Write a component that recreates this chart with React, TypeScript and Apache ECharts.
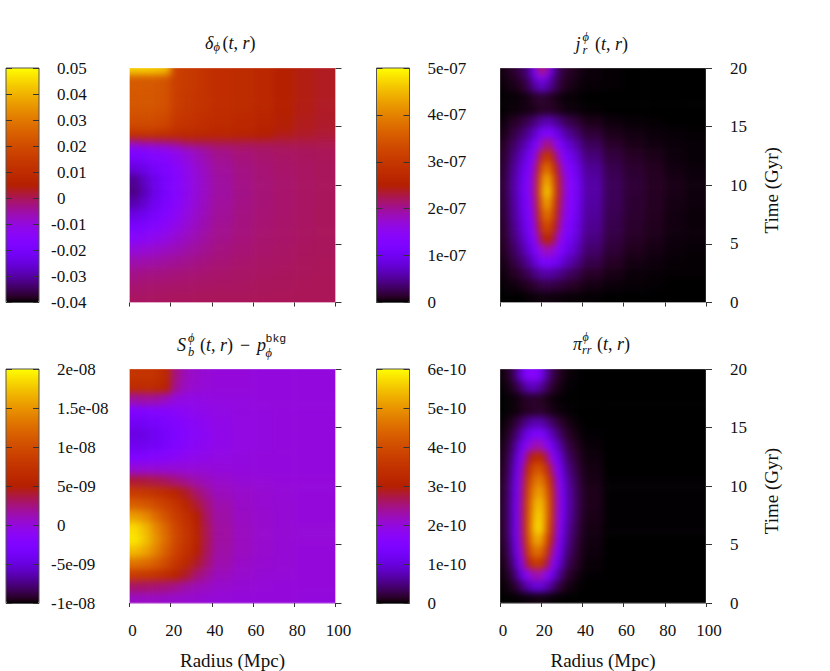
import React, { useEffect, useRef } from "react";
import * as echarts from "echarts";

// ---------- axis ticks ----------
const radiusTicks = [0, 20, 40, 60, 80, 100];
const timeTicks = [0, 5, 10, 15, 20];
const barLabelsDelta = ["-0.04", "-0.03", "-0.02", "-0.01", "0", "0.01", "0.02", "0.03", "0.04", "0.05"];
const barLabelsJ = ["0", "1e-07", "2e-07", "3e-07", "4e-07", "5e-07"];
const barLabelsS = ["-1e-08", "-5e-09", "0", "5e-09", "1e-08", "1.5e-08", "2e-08"];
const barLabelsPi = ["0", "1e-10", "2e-10", "3e-10", "4e-10", "5e-10", "6e-10"];

// ---------- δφ(t,r), in units of 1e-3; rows run from t=0 upward ----------
const deltaR = [0, 5, 10, 15, 20, 25, 30, 35, 40, 50, 60, 70, 80, 90, 100];
const deltaT = [0, 1, 2, 3, 4, 5, 6, 7, 8, 9, 10, 11, 12, 13, 13.5, 14, 14.5, 15, 16, 17, 18, 19, 19.5, 20];
const deltaValues = [
  [-0.6, -0.6, -0.5, -0.5, -0.4, -0.4, -0.3, -0.3, -0.2, -0.2, -0.1, -0.1, 0, 0],
  [-1.6, -1.5, -1.4, -1.3, -1.1, -1, -0.9, -0.8, -0.6, -0.5, -0.3, -0.2, -0.1, 0],
  [-3.2, -3, -2.8, -2.6, -2.3, -2, -1.8, -1.5, -1.2, -0.9, -0.6, -0.4, -0.2, -0.1],
  [-5.8, -5.5, -5.1, -4.6, -4, -3.5, -3, -2.5, -1.9, -1.3, -0.9, -0.6, -0.3, -0.1],
  [-9.5, -9, -8.2, -7.3, -6.3, -5.3, -4.4, -3.6, -2.6, -1.8, -1.2, -0.8, -0.4, -0.2],
  [-14.5, -13.5, -12, -10.5, -8.8, -7.2, -5.8, -4.6, -3.3, -2.2, -1.4, -1, -0.5, -0.2],
  [-19.5, -18, -16, -13.5, -11, -9, -7, -5.5, -3.8, -2.5, -1.6, -1.1, -0.6, -0.2],
  [-24, -22, -19.5, -16.5, -13.5, -10.5, -8, -6.2, -4.2, -2.7, -1.8, -1.2, -0.6, -0.2],
  [-29, -26, -22, -18.5, -15, -11.8, -9, -6.8, -4.6, -3, -1.9, -1.3, -0.7, -0.3],
  [-32, -28, -23.5, -19.5, -16, -12.5, -9.5, -7.2, -4.8, -3.1, -2, -1.3, -0.7, -0.3],
  [-31, -27, -23, -19.5, -16, -12.5, -9.5, -7.2, -4.8, -3, -1.9, -1.3, -0.7, -0.3],
  [-25, -23, -20, -18, -15, -12, -9, -6.8, -4.4, -2.8, -1.8, -1.1, -0.6, -0.2],
  [-19, -18, -16.5, -15, -12.5, -10, -7.5, -5.6, -3.6, -2.2, -1.4, -0.8, -0.4, -0.1],
  [-14, -13.5, -12, -10.5, -8.5, -6.5, -5, -3.5, -2, -1.1, -0.6, -0.2, 0, 0.2],
  [-4, -3, -2.4, -1.8, -1.2, 1, 1.2, 1.2, 1.2, 1.2, 1.2, 1, 1, 0.8],
  [11, 11, 10.5, 10, 9, 8.5, 8, 7.5, 7.5, 6.5, 5, 3.5, 2.5, 1.8],
  [16, 16, 15.5, 14.5, 11.5, 10, 9.5, 9, 8.5, 7.5, 6, 4.2, 3, 2.2],
  [20, 20, 19.5, 18.5, 14, 12.5, 11.5, 10.5, 9.5, 8.5, 7, 4.8, 3.4, 2.6],
  [22, 22, 21.5, 20.5, 15.5, 14, 12.5, 11.5, 10, 9, 7.5, 5.2, 3.8, 2.8],
  [23, 23, 22.5, 21, 16, 14.5, 13, 12, 10.5, 9.5, 8, 5.6, 4, 3],
  [23.5, 23.5, 23, 21.5, 16.5, 15, 13.5, 12, 10.5, 9.5, 8, 5.6, 4, 3],
  [24, 24, 24, 22.5, 16.5, 15, 13.5, 12, 10.5, 9.5, 8, 5.6, 4, 3],
  [44, 44, 43, 41, 17, 15, 13.5, 12, 10.5, 9.5, 8, 5.6, 4, 3],
];

// ---------- j_r^φ(t,r), in units of 1e-8 ----------
const jR = [0, 4, 8, 10, 12, 14, 16, 18, 20, 22, 24, 26, 28, 30, 32, 36, 40, 50, 60, 70, 80, 90, 100];
const jT = [0, 1, 2, 3, 4, 5, 6, 7, 8, 9, 10, 11, 12, 13, 14, 15, 16, 17, 18, 19, 19.5, 20];
const jValues = [
  [0, 0, 0, 0, 0.2, 0.3, 0.3, 0.4, 0.4, 0.4, 0.4, 0.4, 0.3, 0.3, 0.2, 0.2, 0.1, 0, 0, 0, 0, 0],
  [0.2, 0.4, 0.6, 0.8, 1, 1.3, 1.6, 1.9, 2.2, 2.3, 2.2, 2, 1.8, 1.6, 1.3, 1, 0.6, 0.3, 0.2, 0.1, 0, 0],
  [0.4, 1, 1.6, 2, 2.6, 3.3, 4.2, 5, 5.6, 5.8, 5.5, 5, 4.5, 3.9, 3.1, 2.3, 1.3, 0.7, 0.3, 0.2, 0.1, 0.1],
  [0.7, 1.9, 3, 3.8, 4.8, 6.2, 8, 10, 11.5, 12, 11.5, 10.4, 9, 7.8, 6, 4.4, 2.4, 1.2, 0.6, 0.4, 0.2, 0.1],
  [1, 2.8, 4.4, 5.5, 7, 9, 11.5, 15, 18, 19, 18, 15.5, 13, 11, 8.5, 6.2, 3.4, 1.7, 0.9, 0.6, 0.3, 0.2],
  [1.2, 3.6, 5.6, 7, 8.8, 11, 14.5, 20, 25, 27, 24.5, 20, 16, 13.5, 10.3, 7.5, 4.2, 2.1, 1.2, 0.8, 0.4, 0.3],
  [1.4, 4.2, 6.5, 8, 10, 12.5, 16.5, 24, 31, 34, 30, 24, 18.5, 15, 11.5, 8.4, 4.8, 2.4, 1.4, 0.9, 0.5, 0.3],
  [1.6, 4.7, 7.2, 8.8, 11, 13.8, 18.5, 27, 36, 39, 35, 27, 20.5, 16.5, 12.5, 9.2, 5.2, 2.6, 1.5, 1, 0.5, 0.3],
  [1.7, 5, 7.7, 9.4, 11.7, 14.8, 20, 30, 40, 44, 38, 29, 22, 17.5, 13.2, 9.7, 5.5, 2.8, 1.6, 1.1, 0.6, 0.4],
  [1.8, 5.2, 8, 9.8, 12, 15.4, 21, 32, 43, 48, 41, 31, 23, 18, 13.6, 10, 5.7, 2.8, 1.7, 1.1, 0.7, 0.4],
  [1.8, 5.2, 7.9, 9.6, 11.8, 15, 20.5, 31, 41, 45, 39, 30, 22.5, 17.8, 13.4, 9.8, 5.6, 2.8, 1.7, 1.1, 0.7, 0.4],
  [1.6, 4.8, 7.2, 8.8, 10.8, 13.8, 18.5, 27, 36, 39, 33.5, 26.5, 20, 16, 12, 8.8, 5, 2.5, 1.5, 1, 0.5, 0.3],
  [1.4, 4, 6, 7.4, 9.2, 11.6, 15.5, 22, 28, 31, 27, 21, 16.5, 13.4, 10, 7.2, 4, 2, 1.2, 0.8, 0.4, 0.2],
  [1.1, 3.1, 4.6, 5.6, 7, 8.8, 11.5, 15.5, 19.5, 22, 19.5, 15.5, 12.2, 10, 7.4, 5.2, 2.9, 1.4, 0.8, 0.5, 0.3, 0.2],
  [0.7, 2, 3, 3.7, 4.6, 5.8, 7.4, 9.5, 11.5, 13, 12, 9.8, 8, 6.4, 4.6, 3.2, 1.7, 0.8, 0.5, 0.3, 0.2, 0.1],
  [0.4, 1.1, 1.6, 2, 2.5, 3.2, 4, 5, 5.8, 6.4, 6, 5, 4, 3.2, 2.3, 1.6, 0.8, 0.4, 0.2, 0.1, 0, 0],
  [0.1, 0.3, 0.4, 0.5, 0.6, 0.7, 0.9, 1, 1.2, 1.3, 1.2, 1, 0.8, 0.6, 0.4, 0.3, 0.1, 0, 0, 0, 0, 0],
  [0.1, 0.2, 0.3, 0.4, 0.6, 0.9, 1.2, 1.5, 1.5, 1.3, 1, 0.7, 0.5, 0.3, 0.2, 0.1, 0, 0, 0, 0, 0, 0],
  [0.3, 0.7, 1, 1.5, 2.3, 3.8, 5.5, 7, 7.2, 6, 4.4, 2.9, 1.9, 1.2, 0.7, 0.4, 0.2, 0.1, 0, 0, 0, 0],
  [0.5, 1.1, 1.8, 2.8, 3, 6, 10, 14, 15, 11, 6, 3.5, 2.4, 1.6, 1, 0.6, 0.3, 0.1, 0, 0, 0, 0],
  [0.6, 1.4, 2.3, 3, 3.5, 7, 13, 20, 23, 17, 9, 4.5, 2.5, 1.8, 1.2, 0.7, 0.3, 0.1, 0, 0, 0, 0],
];

// ---------- S_b^φ(t,r) − p_φ^bkg, in units of 1e-9 ----------
const sR = [0, 5, 10, 15, 20, 25, 30, 35, 40, 50, 60, 70, 80, 100];
const sT = [0, 1, 2, 3, 4, 5, 6, 7, 8, 9, 10, 11, 12, 13, 14, 15, 16, 17, 18, 19, 20];
const sValues = [
  [0.8, 0.8, 0.8, 0.7, 0.6, 0.5, 0.4, 0.3, 0.2, 0.1, 0.1, 0.1, 0],
  [3, 3, 2.8, 2.6, 2.2, 1.6, 1.2, 0.9, 0.5, 0.3, 0.2, 0.1, 0.1],
  [8.5, 8.2, 7.6, 6.8, 5.6, 4.2, 2.8, 1.9, 1, 0.5, 0.3, 0.2, 0.1],
  [13, 12.5, 11.5, 9.8, 7.8, 6.2, 4.2, 2.8, 1.4, 0.7, 0.4, 0.3, 0.1],
  [17, 16, 14, 11.5, 9, 7.2, 5.2, 3.2, 1.6, 0.9, 0.5, 0.3, 0.1],
  [19, 17.5, 15, 12.4, 9.6, 7.8, 5.6, 3.4, 1.7, 0.9, 0.5, 0.3, 0.2],
  [18.5, 17, 14.5, 12, 9.4, 7.6, 5.4, 3.3, 1.7, 0.9, 0.5, 0.3, 0.2],
  [15.5, 14.5, 12.5, 10.5, 8.6, 7, 5, 3, 1.6, 0.8, 0.5, 0.3, 0.1],
  [11.5, 11, 10, 8.8, 7.5, 5.8, 4, 2.6, 1.4, 0.7, 0.4, 0.3, 0.1],
  [8.4, 8, 7.4, 6.6, 5.6, 4.2, 2.9, 1.9, 1, 0.6, 0.4, 0.2, 0.1],
  [4, 3.8, 3.6, 3.2, 2.6, 2, 1.4, 1, 0.6, 0.3, 0.2, 0.1, 0.1],
  [0.4, 0.3, 0.3, 0.3, 0.3, 0.2, 0.2, 0.2, 0.1, 0, 0, 0, 0],
  [-2.4, -2.2, -1.9, -1.6, -1.2, -0.8, -0.6, -0.4, -0.2, -0.1, 0, 0, 0],
  [-4.2, -4, -3.6, -3, -2.4, -1.7, -1.2, -0.9, -0.5, -0.2, -0.1, 0, 0],
  [-4.8, -4.6, -4, -3.3, -2.6, -1.9, -1.4, -1, -0.5, -0.2, -0.1, 0, 0],
  [-3.8, -3.6, -3.2, -2.8, -2.2, -1.6, -1.2, -0.8, -0.4, -0.2, -0.1, 0, 0],
  [-2.4, -2.2, -2, -1.8, -1.4, -1, -0.7, -0.5, -0.3, -0.1, -0.1, 0, 0],
  [1.8, 1.8, 1.7, 1, 0, -0.3, -0.3, -0.2, -0.1, -0.1, 0, 0, 0],
  [6.6, 6.6, 6.4, 5.4, 2, 0.8, 0.4, 0.2, 0.1, 0.1, 0, 0, 0],
  [7.6, 7.6, 7.4, 6.2, 2.4, 1, 0.5, 0.3, 0.1, 0.1, 0, 0, 0],
];

// ---------- π_rr^φ(t,r), in units of 1e-11 ----------
const piR = [0, 2, 4, 6, 8, 10, 12, 14, 16, 18, 20, 22, 24, 26, 28, 30, 32, 36, 40, 50, 100];
const piT = [0, 1, 2, 3, 4, 5, 6, 7, 8, 9, 10, 11, 12, 13, 14, 15, 16, 17, 18, 19, 20];
const piValues = [
  [0, 0, 0, 0.1, 0.2, 0.3, 0.4, 0.5, 0.6, 0.6, 0.5, 0.4, 0.3, 0.2, 0.1, 0.1, 0, 0, 0, 0],
  [0.2, 0.4, 0.8, 1.6, 3, 5, 7, 9, 10, 10, 9, 7.5, 5.5, 3.5, 2.2, 1.4, 0.6, 0.2, 0, 0],
  [0.4, 1, 2, 4, 7.5, 12, 17, 21, 23, 23, 21, 17, 13, 8.5, 5.3, 3.4, 1.5, 0.6, 0.1, 0],
  [0.7, 1.6, 3.4, 6.8, 12, 19, 28, 34, 37, 37, 33, 27, 20, 14, 9, 6, 2.8, 1.2, 0.3, 0],
  [1, 2.3, 4.6, 9, 15, 23, 34, 42, 46, 46, 42, 34, 25, 17.5, 11.5, 8, 3.8, 1.6, 0.5, 0],
  [1.2, 2.7, 5.5, 10.3, 16, 26, 37, 46, 52, 53, 48, 39, 30, 20.5, 14, 9.5, 4.7, 2, 0.6, 0],
  [1.4, 3, 6, 11, 16.5, 27, 38.5, 48, 56, 58, 53, 43, 33, 23, 15.5, 10.8, 5.4, 2.4, 0.7, 0.1],
  [1.5, 3, 6, 11, 16.5, 27, 38.5, 47, 55, 57, 53, 45, 35, 24, 16.5, 12, 6.2, 2.8, 0.9, 0.1],
  [1.5, 3, 6, 11, 16, 26.5, 38, 46, 53, 55, 52, 45, 35, 24.5, 17, 12.5, 6.5, 3, 1, 0.1],
  [1.4, 2.9, 5.8, 10.5, 15.5, 25.5, 36.5, 44, 50, 52, 49, 43, 34, 24, 16.5, 12, 6.3, 2.9, 1, 0.1],
  [1.3, 2.7, 5.4, 10, 15, 24, 34.5, 41, 46, 48, 45, 39, 31, 22, 15, 10.8, 5.6, 2.6, 0.8, 0.1],
  [1.1, 2.4, 4.8, 9, 13.5, 21.5, 31, 37, 41, 42, 39, 33, 25.5, 18.5, 12.8, 9, 4.6, 2.1, 0.7, 0],
  [0.9, 2, 4, 7.5, 11.5, 17.5, 25, 30, 33, 33, 30, 25, 19, 14, 9.8, 6.8, 3.4, 1.5, 0.5, 0],
  [0.7, 1.5, 3, 5.6, 8.8, 13, 17.5, 21, 23, 23, 21, 17, 13, 9.7, 6.8, 4.6, 2.3, 1, 0.3, 0],
  [0.4, 1, 1.9, 3.5, 5.6, 8.5, 11, 13, 14.5, 14.5, 13, 10.5, 8, 5.8, 4, 2.7, 1.3, 0.5, 0.1, 0],
  [0.2, 0.5, 1, 1.8, 2.9, 4.4, 5.8, 6.8, 7.4, 7.4, 6.6, 5.3, 4, 2.9, 2, 1.3, 0.6, 0.2, 0, 0],
  [0, 0.1, 0.2, 0.4, 0.7, 1, 1.3, 1.5, 1.6, 1.6, 1.4, 1.1, 0.8, 0.6, 0.4, 0.3, 0.1, 0, 0, 0],
  [0, 0.1, 0.2, 0.4, 0.7, 1.1, 1.5, 1.7, 1.6, 1.4, 1.1, 0.8, 0.5, 0.3, 0.2, 0.1, 0, 0, 0, 0],
  [0.2, 0.4, 0.9, 1.8, 3.2, 5.2, 7.2, 8.2, 8, 6.8, 5, 3.3, 2, 1.2, 0.7, 0.4, 0.1, 0, 0, 0],
  [0.4, 0.9, 2, 4, 7.5, 12, 15.5, 17, 16.5, 14, 10, 6, 3.5, 2.2, 1.3, 0.8, 0.3, 0.1, 0, 0],
];

// ---------- styling ----------
const FONT = '"Liberation Serif", serif';
const FS = 17;
const NAME_FS = 19;
const TITLE_FS = 18;
const PLOT_W = 206;
const PLOT_H = 234.5;
const BAR_W = 33;
const plotX = [129.5, 500];
const barX = [6, 376.5];
const rowY = [68, 369];

// gnuplot's default palette (rgbformulae 7,5,15)
const palette: string[] = [];
for (let i = 0; i <= 48; i++) {
  const x = i / 48;
  const c = (v: number) => Math.round(255 * Math.max(0, Math.min(1, v)));
  palette.push(`rgb(${c(Math.sqrt(x))},${c(x * x * x)},${c(Math.sin(2 * Math.PI * x))})`);
}

const panels = [
  { r: deltaR, t: deltaT, v: deltaValues, min: -40, max: 50, step: 10, labels: barLabelsDelta, col: 0, row: 0 },
  { r: jR, t: jT, v: jValues, min: 0, max: 50, step: 10, labels: barLabelsJ, col: 1, row: 0 },
  { r: sR, t: sT, v: sValues, min: -10, max: 20, step: 5, labels: barLabelsS, col: 0, row: 1 },
  { r: piR, t: piT, v: piValues, min: 0, max: 60, step: 10, labels: barLabelsPi, col: 1, row: 1 },
];

function cells(r: number[], t: number[], v: number[][]) {
  const out: number[][] = [];
  v.forEach((row, j) => row.forEach((val, i) => out.push([r[i], t[j], r[i + 1], t[j + 1], val])));
  return out;
}

// edge cells run past the frame so that the soft display does not fade at the clipped border
const renderCell = (_p: any, api: any) => {
  const r0 = api.value(0), t0 = api.value(1), r1 = api.value(2), t1 = api.value(3);
  const a = api.coord([r0, t1]);
  const b = api.coord([r1, t0]);
  const L = r0 === 0 ? 16 : 0, R = r1 === 100 ? 16 : 0, T = t1 === 20 ? 16 : 0, B = t0 === 0 ? 16 : 0;
  return {
    type: "rect",
    shape: { x: a[0] - L, y: a[1] - T, width: b[0] - a[0] + L + R + 0.6, height: b[1] - a[1] + T + B + 0.6 },
    style: { fill: api.visual("color") },
  };
};

function heatOption() {
  return {
    animation: false,
    grid: panels.map((p) => ({ left: plotX[p.col], top: rowY[p.row], width: PLOT_W, height: PLOT_H })),
    xAxis: panels.map((_, i) => ({ show: false, type: "value", min: 0, max: 100, gridIndex: i })),
    yAxis: panels.map((_, i) => ({ show: false, type: "value", min: 0, max: 20, gridIndex: i })),
    visualMap: panels.map((p, i) => ({
      show: false, type: "continuous", min: p.min, max: p.max, dimension: 4, seriesIndex: i,
      inRange: { color: palette },
    })),
    series: panels.map((p, i) => ({
      type: "custom", xAxisIndex: i, yAxisIndex: i, clip: false, renderItem: renderCell,
      encode: { x: [0, 2], y: [1, 3] }, data: cells(p.r, p.t, p.v),
    })),
  };
}

const txt = (x: number, y: number, text: string, fontSize = TITLE_FS, italic = false, family = FONT, rich?: any) => ({
  type: "text", x, y, silent: true,
  style: { text, fontFamily: family, fontSize, fontStyle: italic ? "italic" : "normal", fill: "#111", verticalAlign: "middle", align: "left", rich },
});
const argRich = {
  u: { fontFamily: FONT, fontSize: TITLE_FS, fill: "#111" },
  i: { fontFamily: FONT, fontSize: TITLE_FS, fontStyle: "italic", fill: "#111" },
};
const ARGS = "{u|(}{i|t}{u|, }{i|r}{u|)}";
const PHI = "ϕ";

const titles = [
  txt(205, 43, "δ", TITLE_FS, true), txt(213.5, 47, PHI, 12.5, true), txt(222.5, 43, ARGS, TITLE_FS, false, FONT, argRich),
  txt(575.5, 44, "j", TITLE_FS, true), txt(582.5, 37, PHI, 12.5, true), txt(582.5, 50, "r", 12.5, true), txt(595, 44, ARGS, TITLE_FS, false, FONT, argRich),
  txt(177, 345, "S", TITLE_FS, true), txt(188, 338, PHI, 12.5, true), txt(188, 352, "b", 12.5, true), txt(200, 345, ARGS, TITLE_FS, false, FONT, argRich),
  txt(240, 345, "−", TITLE_FS), txt(257, 345, "p", TITLE_FS, true), txt(265.5, 338, "bkg", 11.5, false, '"Liberation Mono", monospace'), txt(265.5, 353, PHI, 12.5, true),
  txt(573, 344, "π", TITLE_FS, true), txt(582.5, 336.5, PHI, 12, true), txt(582, 350, "rr", 12, true), txt(597, 344, ARGS, TITLE_FS, false, FONT, argRich),
];

function overlayOption() {
  const grid: any[] = [], xAxis: any[] = [], yAxis: any[] = [], visualMap: any[] = [];
  const tickLine = { color: "#333", width: 1 };
  panels.forEach((p) => {
    const bottom = p.row === 1, right = p.col === 1;
    // the plot frame, ticks and labels
    grid.push({ show: true, left: plotX[p.col], top: rowY[p.row], width: PLOT_W, height: PLOT_H, backgroundColor: "transparent", borderColor: "rgba(255,255,255,0.3)", borderWidth: 1 });
    xAxis.push({
      gridIndex: grid.length - 1, type: "value", min: radiusTicks[0], max: radiusTicks[5], interval: 20,
      axisLine: { show: false, onZero: false }, splitLine: { show: false }, axisTick: { length: 4, lineStyle: tickLine },
      axisLabel: { show: bottom, margin: 19, fontFamily: FONT, fontSize: FS, color: "#111", padding: [0, 0, 0, 6], showMinLabel: true, showMaxLabel: true },
      name: bottom ? "Radius (Mpc)" : "", nameLocation: "middle", nameGap: 48, nameTextStyle: { fontFamily: FONT, fontSize: NAME_FS, color: "#111" },
    });
    yAxis.push({
      gridIndex: grid.length - 1, type: "value", position: "right", min: timeTicks[0], max: timeTicks[4], interval: 5,
      axisLine: { show: false, onZero: false }, splitLine: { show: false }, axisTick: { length: 6, lineStyle: tickLine },
      axisLabel: { show: right, margin: 24, align: "left", fontFamily: FONT, fontSize: FS, color: "#111" },
      name: right ? "Time (Gyr)" : "", nameLocation: "middle", nameRotate: 90, nameGap: 56,
      nameTextStyle: { fontFamily: FONT, fontSize: NAME_FS, color: "#111", padding: [0, 10, 0, 0] },
    });
    // the colour bar, its ticks and its labels
    grid.push({ show: true, z: 5, left: barX[p.col], top: rowY[p.row], width: BAR_W, height: PLOT_H, backgroundColor: "transparent", borderColor: "#555", borderWidth: 1 });
    const g = grid.length - 1;
    xAxis.push({ gridIndex: g, type: "value", show: false, min: 0, max: 1 });
    const common = {
      gridIndex: g, type: "value", min: p.min, max: p.max, interval: p.step, z: 10,
      axisLine: { show: false, onZero: false }, splitLine: { show: false }, axisTick: { inside: true, length: 6, lineStyle: tickLine },
    };
    yAxis.push({ ...common, position: "left", axisLabel: { show: false } });
    yAxis.push({
      ...common, position: "right",
      axisLabel: {
        margin: 12, align: "left", showMinLabel: true, showMaxLabel: true,
        formatter: (v: number) => {
          const s = p.labels[Math.round((v - p.min) / p.step)];
          return s.startsWith("-") ? `{n|${s}}` : `{p|${s}}`;
        },
        rich: {
          n: { fontFamily: FONT, fontSize: FS, color: "#111" },
          p: { fontFamily: FONT, fontSize: FS, color: "#111", padding: [0, 0, 0, 6] },
        },
      },
    });
    visualMap.push({
      type: "continuous", show: true, min: p.min, max: p.max, seriesIndex: [], calculable: false, text: null,
      left: barX[p.col], top: rowY[p.row], itemWidth: BAR_W, itemHeight: PLOT_H, padding: 0, z: 4,
      inRange: { color: palette },
    });
  });
  return { animation: false, backgroundColor: "transparent", grid, xAxis, yAxis, visualMap, graphic: { elements: titles }, series: [] };
}

const clip = "path('" + panels.map((p) => `M${plotX[p.col]} ${rowY[p.row]}h${PLOT_W}v${PLOT_H}h-${PLOT_W}z`).join("") + "')";
const layer: React.CSSProperties = { position: "absolute", left: 0, top: 0, width: 830, height: 671 };

export default function App() {
  const heatRef = useRef<HTMLDivElement>(null);
  const overRef = useRef<HTMLDivElement>(null);
  useEffect(() => {
    const heat = echarts.init(heatRef.current!, undefined, { renderer: "svg" });
    const over = echarts.init(overRef.current!, undefined, { renderer: "svg" });
    heat.setOption(heatOption() as any);
    over.setOption(overlayOption() as any);
    return () => {
      heat.dispose();
      over.dispose();
    };
  }, []);
  return (
    <div style={{ ...layer, background: "#fff", overflow: "hidden" }}>
      <div style={{ ...layer, clipPath: clip }}>
        <div ref={heatRef} style={{ ...layer, filter: "blur(3.5px)" }} />
      </div>
      <div ref={overRef} style={layer} />
    </div>
  );
}
